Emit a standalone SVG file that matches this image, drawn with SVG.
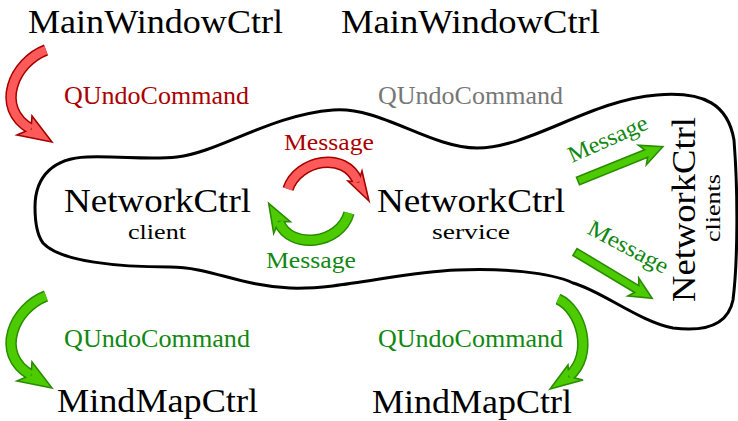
<svg xmlns="http://www.w3.org/2000/svg" width="738" height="421" viewBox="0 0 738 421">
<style>
text{font-family:"Liberation Serif","Times New Roman",serif}
.big{font-size:34px;fill:#000}
.mid{font-size:25px}
.msg{font-size:23px}
.sub{font-size:20px;fill:#000}
.red{fill:#aa0000}
.grn{fill:#118811}
.gry{fill:#777777}
.blob{fill:none;stroke:#000;stroke-width:3}
.rO{fill:none;stroke:#a40000;stroke-width:11.5}
.rI{fill:none;stroke:#ff5a5a;stroke-width:8.5}
.rH{fill:#ff5a5a;stroke:#a40000;stroke-width:1.6;stroke-linejoin:miter}
.gO{fill:none;stroke:#2a8c00;stroke-width:11.5}
.gI{fill:none;stroke:#4ccc00;stroke-width:8.5}
.gH{fill:#4ccc00;stroke:#2a8c00;stroke-width:1.6;stroke-linejoin:miter}
</style>
<g id="cluster">
<path class="blob" d="M35,207 C35,175 55,158 87,157 C120,156 150,160 177,157 C220,152 270,115 333,110 C380,106 430,148 477,148 C530,148 590,100 657,95 C705,91 728,105 734,140 C738,190 738,260 733,300 C728,325 705,332 673,328 C640,322 600,290 573,283 C550,272 500,268 457,270 C400,272 340,290 290,288 C240,286 210,267 170,267 C120,267 60,262 43,243 C37,235 35,220 35,207 Z"/>
</g>
<g id="mainwindow1"><text class="big" x="28" y="33" textLength="255" lengthAdjust="spacingAndGlyphs">MainWindowCtrl</text></g>
<g id="mainwindow2"><text class="big" x="341" y="33" textLength="259" lengthAdjust="spacingAndGlyphs">MainWindowCtrl</text></g>
<g id="netclient"><text class="big" x="64" y="212" textLength="187" lengthAdjust="spacingAndGlyphs">NetworkCtrl</text><text class="sub" x="128" y="238.5" textLength="58" lengthAdjust="spacingAndGlyphs">client</text></g>
<g id="netservice"><text class="big" x="377" y="212" textLength="188" lengthAdjust="spacingAndGlyphs">NetworkCtrl</text><text class="sub" x="432" y="238.5" textLength="78" lengthAdjust="spacingAndGlyphs">service</text></g>
<g id="netclients"><text class="big" transform="translate(695,302) rotate(-90)" x="0" y="0" textLength="185" lengthAdjust="spacingAndGlyphs">NetworkCtrl</text><text class="sub" transform="translate(720,242) rotate(-90)" x="0" y="0" textLength="68" lengthAdjust="spacingAndGlyphs">clients</text></g>
<g id="mindmap1"><text class="big" x="57" y="412" textLength="201" lengthAdjust="spacingAndGlyphs">MindMapCtrl</text></g>
<g id="mindmap2"><text class="big" x="372" y="413" textLength="200" lengthAdjust="spacingAndGlyphs">MindMapCtrl</text></g>
<g id="connectors">
<path class="rO" d="M46,50 C14,62 -6,108 31,129"/>
<polygon class="rH" points="52,142 17,135 31,129 32,116"/>
<path class="rI" d="M46,50 C14,62 -6,108 31,129"/>
<text class="mid red" x="64" y="104" textLength="185" lengthAdjust="spacingAndGlyphs">QUndoCommand</text>
<text class="mid gry" x="378" y="104" textLength="185" lengthAdjust="spacingAndGlyphs">QUndoCommand</text>
<path class="rO" d="M288,189 C298,160 345,150 358,182"/>
<polygon class="rH" points="369,201 348,181 358.5,182 362,171"/>
<path class="rI" d="M288,189 C298,160 345,150 358,182"/>
<text class="msg red" x="284" y="150" textLength="90" lengthAdjust="spacingAndGlyphs">Message</text>
<path class="gO" d="M349,213 C340,245 290,250 279,222"/>
<polygon class="gH" points="268.7,203.3 290.3,221.7 278.7,221.5 273.7,233.3"/>
<path class="gI" d="M349,213 C340,245 290,250 279,222"/>
<text class="msg grn" x="266" y="268" textLength="90" lengthAdjust="spacingAndGlyphs">Message</text>
<polygon class="gH" transform="translate(578,181) rotate(-22)" points="0,-4 73.5,-4 69.5,-10.5 91.5,0 69.5,10.5 73.5,4 0,4"/>
<text class="msg grn" transform="translate(572,163) rotate(-24)" x="0" y="0" textLength="85" lengthAdjust="spacingAndGlyphs">Message</text>
<polygon class="gH" transform="translate(575,252) rotate(31)" points="0,-4 72,-4 68,-10.5 90,0 68,10.5 72,4 0,4"/>
<text class="msg grn" transform="translate(586,233) rotate(28)" x="0" y="0" textLength="88" lengthAdjust="spacingAndGlyphs">Message</text>
<path class="gO" d="M46,296 C14,308 -6,354 31,375"/>
<polygon class="gH" points="52,388 17,381 31,375 32,362"/>
<path class="gI" d="M46,296 C14,308 -6,354 31,375"/>
<text class="mid grn" x="64" y="347" textLength="186" lengthAdjust="spacingAndGlyphs">QUndoCommand</text>
<path class="gO" d="M558,299 C582,310 594,355 569,376"/>
<polygon class="gH" points="550,389 583,380 569,376.6 568,365"/>
<path class="gI" d="M558,299 C582,310 594,355 569,376"/>
<text class="mid grn" x="378" y="347" textLength="185" lengthAdjust="spacingAndGlyphs">QUndoCommand</text>
</g>
</svg>
